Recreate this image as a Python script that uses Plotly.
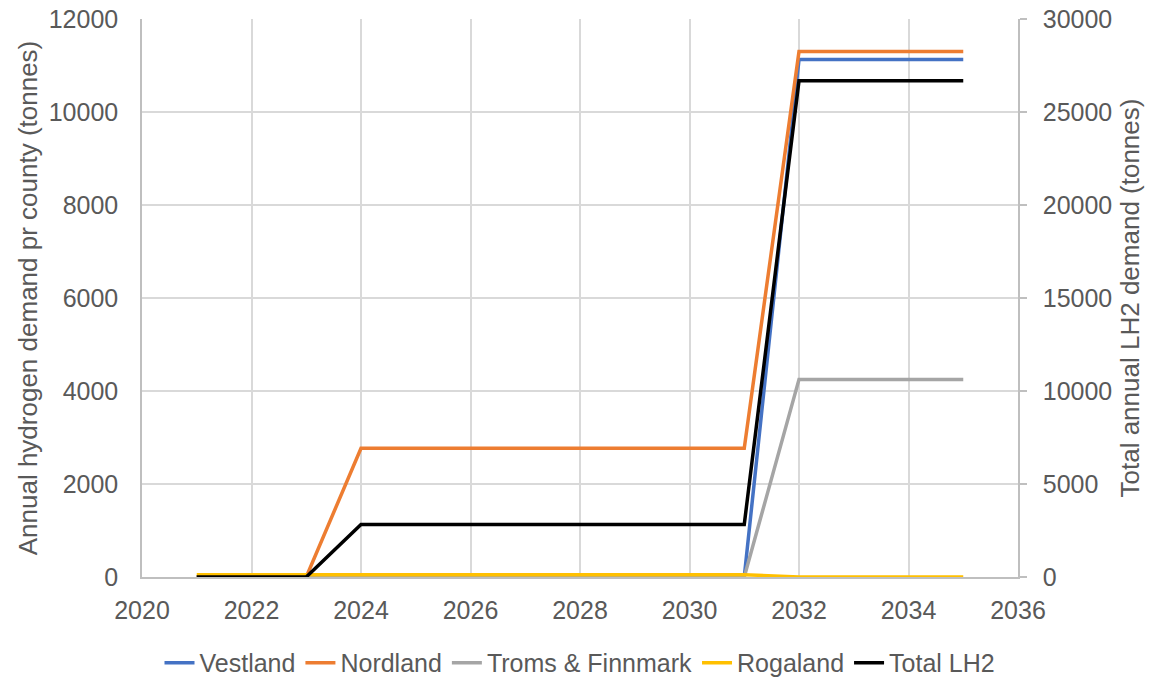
import plotly.graph_objects as go

years = [2021, 2022, 2023, 2024, 2025, 2026, 2027, 2028, 2029, 2030, 2031, 2032, 2033, 2034, 2035]
vestland = [0, 0, 0, 0, 0, 0, 0, 0, 0, 0, 0, 11130, 11130, 11130, 11130]
nordland = [0, 0, 0, 2770, 2770, 2770, 2770, 2770, 2770, 2770, 2770, 11300, 11300, 11300, 11300]
troms_finnmark = [0, 0, 0, 0, 0, 0, 0, 0, 0, 0, 0, 4250, 4250, 4250, 4250]
rogaland = [50, 50, 50, 50, 50, 50, 50, 50, 50, 50, 50, 0, 0, 0, 0]
total_lh2 = [0, 0, 0, 2820, 2820, 2820, 2820, 2820, 2820, 2820, 2820, 26680, 26680, 26680, 26680]

FONT = "Liberation Sans, Arial, sans-serif"
TXT = "#595959"
FS = 25
LW = 3.5

fig = go.Figure()
series = [
    ("Vestland", vestland, "#4472C4"),
    ("Nordland", nordland, "#ED7D31"),
    ("Troms & Finnmark", troms_finnmark, "#A5A5A5"),
    ("Rogaland", rogaland, "#FFC000"),
]
for name, vals, col in series:
    fig.add_trace(go.Scatter(x=years, y=vals, name=name, mode="lines",
                             line=dict(color=col, width=LW)))
fig.add_trace(go.Scatter(x=years, y=total_lh2, name="Total LH2", mode="lines",
                         line=dict(color="#000000", width=LW), yaxis="y2"))

fig.update_layout(
    width=1160, height=682,
    margin=dict(l=142, r=142, t=19, b=105),
    paper_bgcolor="white", plot_bgcolor="white",
    font=dict(family=FONT, size=FS, color=TXT),
    xaxis=dict(range=[2020, 2036], dtick=2, tick0=2020, tickformat="d",
               showgrid=True, gridcolor="#D9D9D9", gridwidth=1.5,
               showline=True, linecolor="#BFBFBF", linewidth=1.5,
               zeroline=False, ticks="", ticklabelstandoff=10,
               automargin=False, tickfont=dict(size=FS, color=TXT)),
    yaxis=dict(range=[0, 12000], dtick=2000, tickformat="d",
               showgrid=True, gridcolor="#D9D9D9", gridwidth=1.5,
               showline=True, linecolor="#BFBFBF", linewidth=1.5,
               zeroline=False, ticks="", ticklabelstandoff=17,
               automargin=False, tickfont=dict(size=FS, color=TXT),
               title=dict(text="Annual hydrogen demand pr county (tonnes)",
                          font=dict(size=26, color=TXT), standoff=4)),
    yaxis2=dict(range=[0, 30000], dtick=5000, tickformat="d",
                overlaying="y", side="right", showgrid=False,
                showline=True, linecolor="#BFBFBF", linewidth=1.5,
                zeroline=False, ticks="outside", ticklen=7,
                tickcolor="#BFBFBF", tickwidth=1.5, ticklabelstandoff=11,
                automargin=False, tickfont=dict(size=FS, color=TXT),
                title=dict(text="Total annual LH2 demand (tonnes)",
                           font=dict(size=26, color=TXT), standoff=10)),
    legend=dict(orientation="h", x=0.5, xanchor="center",
                yref="container", y=0.028, yanchor="middle",
                font=dict(size=25, color=TXT), tracegroupgap=0),
    showlegend=True,
)

fig.write_html("out.html")
